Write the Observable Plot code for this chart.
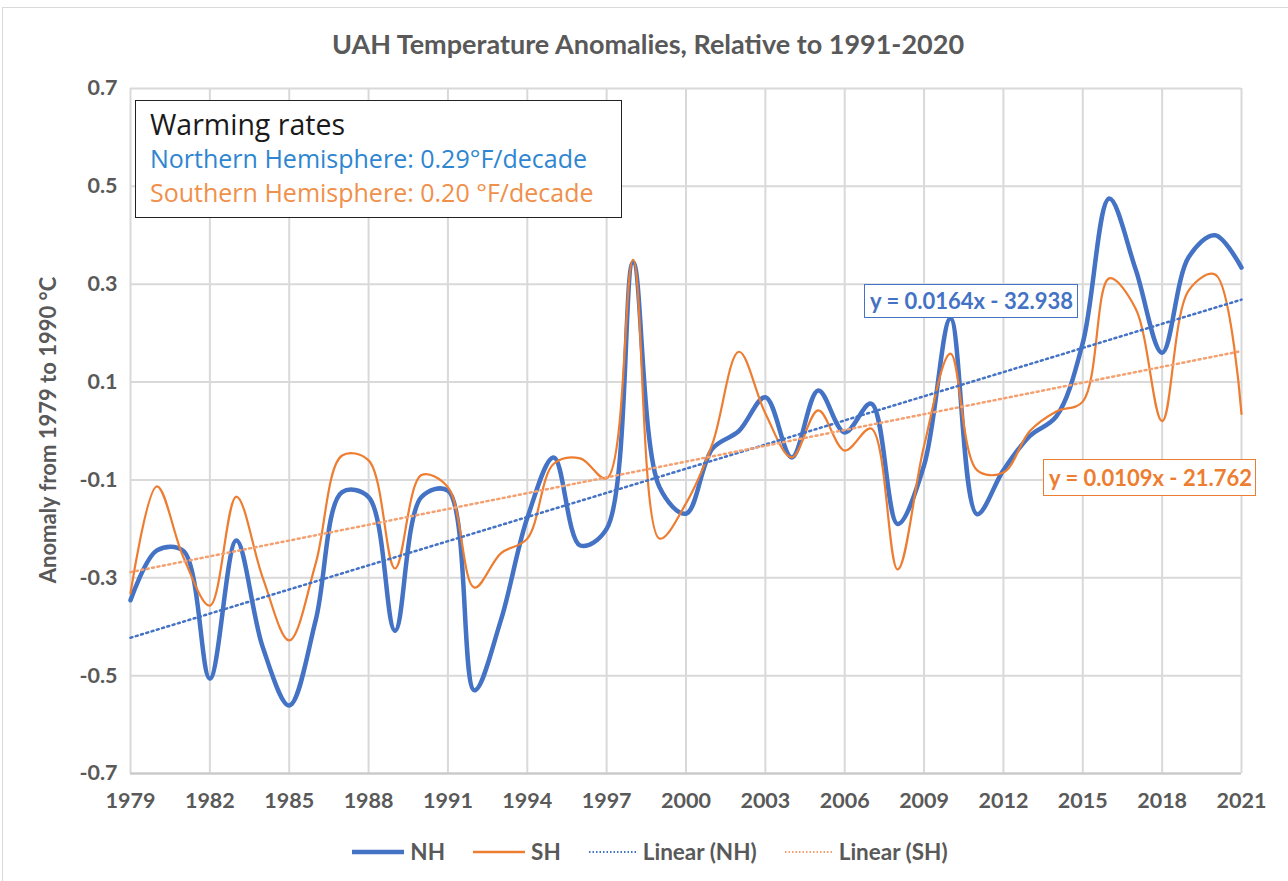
<!DOCTYPE html>
<html><head><meta charset="utf-8">
<script src="https://cdn.jsdelivr.net/npm/d3@7"></script>
<script src="https://cdn.jsdelivr.net/npm/@observablehq/plot@0.6"></script>
<style>
body{margin:0;background:#fff;font-family:Lato,"Open Sans",sans-serif;}
#wrap{position:relative;width:1288px;height:881px;overflow:hidden;background:#fff;}
#frame{position:absolute;left:2px;top:7px;width:1300px;height:900px;border:1px solid #d9d9d9;box-sizing:border-box;pointer-events:none;}
#title{position:absolute;left:0;width:1296px;top:27px;text-align:center;font-size:27px;font-weight:bold;color:#595959;}
#ylab{position:absolute;left:47px;top:430px;transform:translate(-50%,-50%) rotate(-90deg);white-space:nowrap;font-size:22px;color:#595959;font-weight:bold;}
#box{position:absolute;left:135px;top:100px;width:487px;height:118px;border:1.5px solid #222;box-sizing:border-box;background:#fff;font-family:"Open Sans",sans-serif;font-size:25px;line-height:34px;padding:6px 0 0 14px;}
.eq{position:absolute;border:1.5px solid;background:#fff;font-weight:bold;font-size:22px;padding:1px 5px;white-space:nowrap;box-sizing:border-box;line-height:30px;}
#legend{position:absolute;top:838px;left:0;width:1300px;display:flex;justify-content:center;align-items:center;font-size:22.5px;color:#595959;font-weight:bold;}
#legend .item{display:flex;align-items:center;margin:0 14px;}
#legend svg{margin-right:6px;}
</style></head><body>
<div id="wrap"></div>
<script>
const years = [1979,1980,1981,1982,1983,1984,1985,1986,1987,1988,1989,1990,1991,1992,1993,1994,1995,1996,1997,1998,1999,2000,2001,2002,2003,2004,2005,2006,2007,2008,2009,2010,2011,2012,2013,2014,2015,2016,2017,2018,2019,2020,2021];
const nh = [-0.346,-0.244,-0.245,-0.506,-0.224,-0.442,-0.561,-0.387,-0.125,-0.135,-0.408,-0.135,-0.122,-0.53,-0.387,-0.178,-0.054,-0.234,-0.2,0.345,-0.115,-0.169,-0.036,0.0,0.069,-0.054,0.083,-0.003,0.056,-0.19,-0.07,0.23,-0.17,-0.08,-0.01,0.03,0.18,0.475,0.33,0.16,0.355,0.40,0.334];
const sh = [-0.332,-0.113,-0.258,-0.357,-0.134,-0.30,-0.428,-0.271,-0.05,-0.06,-0.281,-0.09,-0.115,-0.32,-0.25,-0.22,-0.067,-0.056,-0.097,0.35,-0.22,-0.148,-0.026,0.162,0.036,-0.054,0.042,-0.04,0.005,-0.283,-0.03,0.158,-0.08,-0.085,0.0,0.04,0.06,0.312,0.25,0.02,0.287,0.32,0.035];
const xTicks = [1979,1982,1985,1988,1991,1994,1997,2000,2003,2006,2009,2012,2015,2018,2021];
const yTicks = [-0.7,-0.5,-0.3,-0.1,0.1,0.3,0.5,0.7];
const yTickLabels = ["-0.7","-0.5","-0.3","-0.1","0.1","0.3","0.5","0.7"];
const colors = {NH:"#4472C4", SH:"#ED7D31"};
const titleText = "UAH Temperature Anomalies, Relative to 1991-2020";
const yLabel = "Anomaly from 1979 to 1990 °C";
const boxLines = [["Warming rates","#1a1a1a","28.5px"],["Northern Hemisphere: 0.29°F/decade","#2E86D1","25px"],["Southern Hemisphere: 0.20 °F/decade","#F0904A","25px"]];
const eqNH = "y = 0.0164x - 32.938";
const eqSH = "y = 0.0109x - 21.762";

const nhData = years.map((y,i)=>({year:y,value:nh[i]}));
const shData = years.map((y,i)=>({year:y,value:sh[i]}));

const chart = Plot.plot({
  width:1288, height:881,
  marginLeft:130, marginRight:47, marginTop:88, marginBottom:108,
  style:{fontFamily:"Lato, sans-serif", fontSize:"21.5px", color:"#595959", background:"transparent", fontWeight:"bold"},
  x:{domain:[1979,2021]},
  y:{domain:[-0.7,0.7]},
  marks:[
    Plot.gridX(xTicks,{stroke:"#d9d9d9",strokeOpacity:1,strokeWidth:2}),
    Plot.gridY(yTicks,{stroke:"#d9d9d9",strokeOpacity:1,strokeWidth:2}),
    Plot.ruleY([-0.7],{stroke:"#c8c8c8",strokeWidth:2}),
    Plot.axisX(xTicks,{tickSize:0,tickPadding:19,tickFormat:d=>String(d),label:null}),
    Plot.axisY(yTicks,{tickSize:0,tickPadding:13,tickFormat:(d,i)=>yTickLabels[i],label:null}),
    Plot.line(nhData,{x:"year",y:"value",curve:"catmull-rom",stroke:colors.NH,strokeWidth:4.5}),
    Plot.line(shData,{x:"year",y:"value",curve:"catmull-rom",stroke:colors.SH,strokeWidth:2.2}),
    Plot.linearRegressionY(nhData,{x:"year",y:"value",ci:0,stroke:colors.NH,strokeWidth:2.5,strokeDasharray:"2,3.5"}),
    Plot.linearRegressionY(shData,{x:"year",y:"value",ci:0,stroke:"#F4A070",strokeWidth:2.5,strokeDasharray:"2,3.5"})
  ]
});
chart.style.position="absolute"; chart.style.left="0"; chart.style.top="0";
const wrap = document.getElementById("wrap");
wrap.innerHTML = `<div id="frame"></div><div id="title"></div><div id="ylab"></div><div id="box"></div><div id="eq1" class="eq"></div><div id="eq2" class="eq"></div><div id="legend"></div>`;
wrap.appendChild(chart);
["box","eq1","eq2"].forEach(id=>wrap.appendChild(document.getElementById(id)));
document.getElementById("title").textContent = titleText;
document.getElementById("ylab").textContent = yLabel;
document.getElementById("box").innerHTML = boxLines.map(([t,c,s])=>`<div style="color:${c};font-size:${s}">${t}</div>`).join("");
const e1 = document.getElementById("eq1");
e1.textContent = eqNH; e1.style.color=colors.NH; e1.style.borderColor=colors.NH;
e1.style.left="864px"; e1.style.top="284px"; e1.style.width="214px"; e1.style.height="34px";
const e2 = document.getElementById("eq2");
e2.textContent = eqSH; e2.style.color=colors.SH; e2.style.borderColor=colors.SH;
e2.style.left="1043px"; e2.style.top="459px"; e2.style.width="213px"; e2.style.height="37px";
e2.style.paddingTop="3px";
const legendItems = [
  {name:"NH", color:colors.NH, w:4.5, dash:null, len:52},
  {name:"SH", color:colors.SH, w:2.5, dash:null, len:52},
  {name:"Linear (NH)", color:colors.NH, w:2, dash:"1.5,2", len:48},
  {name:"Linear (SH)", color:"#F4A070", w:2, dash:"1.5,2", len:48}
];
document.getElementById("legend").innerHTML = legendItems.map(it=>
  `<div class="item"><svg width="${it.len}" height="10"><line x1="0" x2="${it.len}" y1="5" y2="5" stroke="${it.color}" stroke-width="${it.w}" ${it.dash?`stroke-dasharray="${it.dash}"`:""}/></svg><span>${it.name}</span></div>`).join("");
</script>
</body></html>
